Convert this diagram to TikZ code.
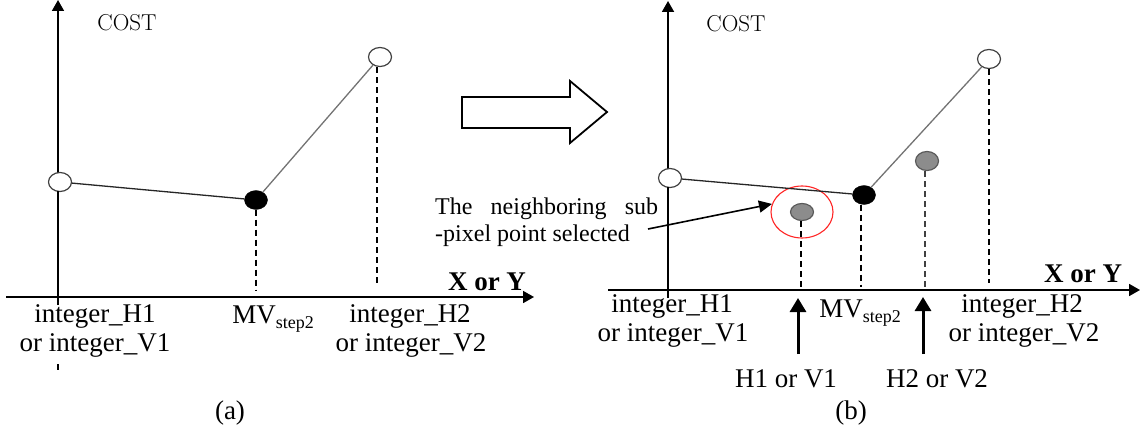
\documentclass[tikz,border=0pt]{standalone}
\usepackage{fontspec}
\newfontfamily\tnr{Liberation Serif}
\usetikzlibrary{arrows.meta,shapes.geometric}
\newcommand{\mvlabel}{MV{\fontsize{18}{18}\selectfont\raisebox{-5pt}{step2}}}
\begin{document}
\begin{tikzpicture}[x=1pt,y=-1pt,
  lbl/.style={font=\tnr\fontsize{27}{29}\selectfont, inner sep=0pt},
  costlbl/.style={font=\fontsize{23}{25}\selectfont, inner sep=0pt},
  bold lbl/.style={font=\tnr\bfseries\fontsize{27}{29}\selectfont, inner sep=0pt},
  axis/.style={line width=1.8pt, -{Triangle[length=11pt,width=12pt]}},
  opencirc/.style={ellipse, draw=black!75, fill=white, line width=1.2pt, minimum width=23pt, minimum height=19pt, inner sep=0pt},
  blackcirc/.style={ellipse, draw=black, fill=black, minimum width=23pt, minimum height=19pt, inner sep=0pt},
  graycirc/.style={ellipse, draw=black!65, fill=black!45, line width=1.2pt, minimum width=23pt, minimum height=17pt, inner sep=0pt},
  darkline/.style={line width=1.3pt, draw=black!85},
  grayline/.style={line width=1.3pt, draw=black!55},
  dashline/.style={line width=1.8pt, dash pattern=on 6pt off 4pt},
  uparrow/.style={line width=3pt, -{Triangle[length=14pt,width=16pt]}},
  pointer/.style={line width=1.6pt, -{Triangle[length=13pt,width=12pt]}}
]
\useasboundingbox (0,0) rectangle (1140,433);

% ---------- panel (a) ----------
\coordinate (ayb) at (58,305);
\coordinate (ayt) at (58,0);
\coordinate (axl) at (6,297);
\coordinate (axr) at (534,297);
\draw[axis] (ayb) -- (ayt);
\draw[axis] (axl) -- (axr);

\node[opencirc]  (a1) at (60,182) {};
\node[blackcirc] (a2) at (256,200) {};
\node[opencirc]  (a3) at (380,57) {};
\draw[darkline] (a1) -- (a2);
\draw[grayline] (a2) -- (a3);

\coordinate (a1b) at (58,305);
\coordinate (a2b) at (256,290);
\coordinate (a3b) at (377,283);
\draw[dashline] (58,191) -- (a1b);
\draw[dashline] (a2.south) -- (a2b);
\draw[dashline] (a3.south -| a3b) -- (a3b);
\coordinate (tkA) at (58,364);
\coordinate (tkB) at (58,370);
\draw[line width=1.2pt] (tkA) -- (tkB);

\node[costlbl] (costa) at (127,23) {COST};
\node[bold lbl] (xya) at (487,282) {X or Y};
\node[lbl] (ih1a) at (95,316) {integer\_H1};
\node[lbl] (iv1a) at (95,345) {or integer\_V1};
\node[lbl] (mva) at (273,319) {\mvlabel};
\node[lbl] (ih2a) at (410,316) {integer\_H2};
\node[lbl] (iv2a) at (411,345) {or integer\_V2};
\node[lbl] (capa) at (230,413) {(a)};

% ---------- big arrow ----------
\draw[line width=1.8pt, line join=miter] (462,97) -- (570,97) -- (570,81) -- (607,112) -- (570,143) -- (570,128) -- (462,128) -- cycle;

% ---------- panel (b) ----------
\coordinate (byb) at (668,298);
\coordinate (byt) at (668,1);
\coordinate (bxl) at (608,290);
\coordinate (bxr) at (1140,290);
\draw[axis] (byb) -- (byt);
\draw[axis] (bxl) -- (bxr);

\node[opencirc]  (b1) at (670,178) {};
\node[blackcirc] (b2) at (864,195) {};
\node[opencirc]  (b3) at (989,59) {};
\node[graycirc]  (g1) at (802,212) {};
\node[graycirc, minimum height=19pt]  (g2) at (927,161) {};
\node[ellipse, draw=red!85, line width=1.1pt, minimum width=62pt, minimum height=52pt] (red) at (802,212) {};
\draw[darkline] (b1) -- (b2);
\draw[grayline] (b2) -- (b3);

\coordinate (b1b) at (668,298);
\coordinate (g1b) at (801,287);
\coordinate (b2b) at (861,287);
\coordinate (g2b) at (925,290);
\coordinate (b3b) at (989,283);
\draw[dashline] (668,187) -- (b1b);
\draw[dashline] (g1.south -| g1b) -- (g1b);
\draw[dashline] (b2.south -| b2b) -- (b2b);
\draw[dashline, draw=black!75] (g2.south -| g2b) -- (g2b);
\draw[dashline] (b3.south) -- (b3b);

\coordinate (ua1) at (798,354);
\coordinate (ua1t) at (798,298);
\coordinate (ua2) at (923,354);
\coordinate (ua2t) at (923,297);
\draw[uparrow] (ua1) -- (ua1t);
\draw[uparrow] (ua2) -- (ua2t);

\node[costlbl] (costb) at (736,24) {COST};
\node[bold lbl] (xyb) at (1083,274) {X or Y};
\node[lbl] (ih1b) at (672,306) {integer\_H1};
\node[lbl] (iv1b) at (673,335) {or integer\_V1};
\node[lbl] (mvb) at (860,313) {\mvlabel};
\node[lbl] (ih2b) at (1022,306) {integer\_H2};
\node[lbl] (iv2b) at (1024,335) {or integer\_V2};
\node[lbl] (h1v1) at (786,379) {H1 or V1};
\node[lbl] (h2v2) at (937,379) {H2 or V2};
\node[lbl] (capb) at (851,413) {(b)};

\node[font=\tnr\fontsize{24}{27}\selectfont, inner sep=0pt, align=left, anchor=north west] (note) at (435,198)
  {\makebox[223pt][s]{The neighboring sub}\\-pixel point selected};
\coordinate (pst) at (648,229);
\draw[pointer] (pst) -- (red.165);

\end{tikzpicture}
\end{document}
